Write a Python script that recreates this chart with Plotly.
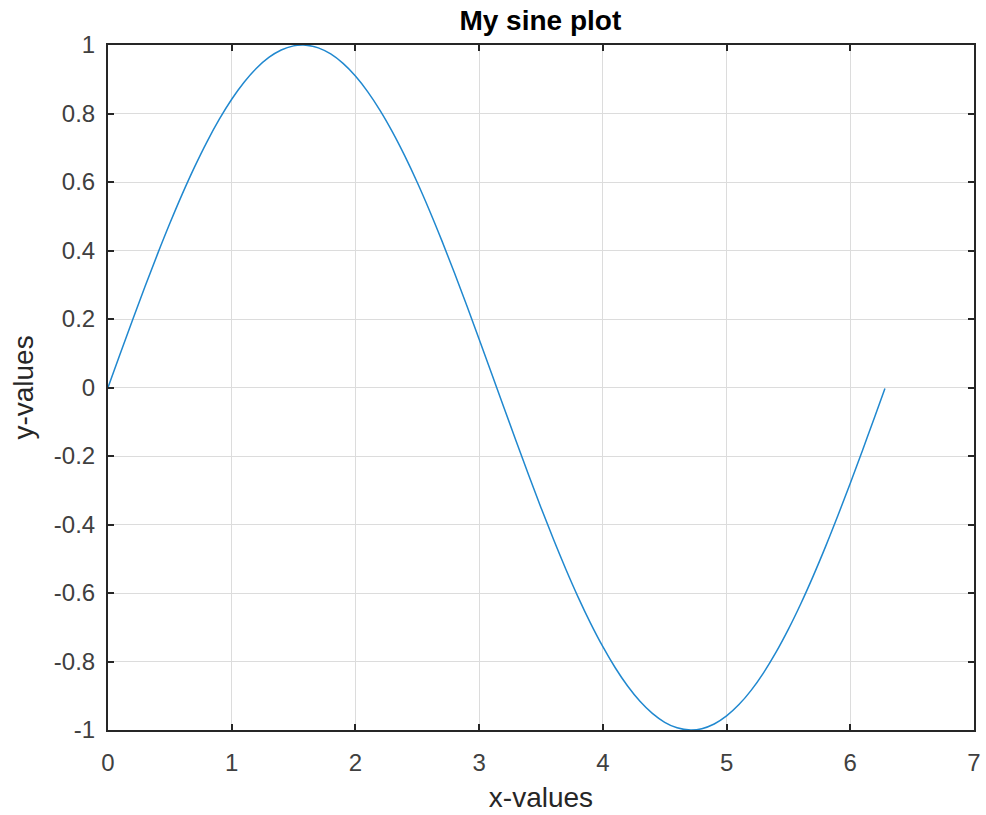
import plotly.graph_objects as go

x_vals = [0.0, 0.1, 0.2, 0.3, 0.4, 0.5, 0.6, 0.7, 0.8, 0.9, 1.0, 1.1, 1.2, 1.3, 1.4, 1.5, 1.57, 1.6,
          1.7, 1.8, 1.9, 2.0, 2.1, 2.2, 2.3, 2.4, 2.5, 2.6, 2.7, 2.8, 2.9, 3.0, 3.1, 3.2, 3.3,
          3.4, 3.5, 3.6, 3.7, 3.8, 3.9, 4.0, 4.1, 4.2, 4.3, 4.4, 4.5, 4.6, 4.71, 4.8, 4.9,
          5.0, 5.1, 5.2, 5.3, 5.4, 5.5, 5.6, 5.7, 5.8, 5.9, 6.0, 6.1, 6.2, 6.28]
y_vals = [0.0, 0.0998, 0.1987, 0.2955, 0.3894, 0.4794, 0.5646, 0.6442, 0.7174, 0.7833, 0.8415,
          0.8912, 0.9320, 0.9636, 0.9854, 0.9975, 1.0, 0.9996, 0.9917, 0.9738, 0.9463, 0.9093,
          0.8632, 0.8085, 0.7457, 0.6755, 0.5985, 0.5155, 0.4274, 0.3350, 0.2392, 0.1411,
          0.0416, -0.0584, -0.1577, -0.2555, -0.3508, -0.4425, -0.5298, -0.6119, -0.6878,
          -0.7568, -0.8183, -0.8716, -0.9162, -0.9516, -0.9775, -0.9937, -1.0, -0.9962,
          -0.9825, -0.9589, -0.9258, -0.8835, -0.8323, -0.7728, -0.7055, -0.6313, -0.5507,
          -0.4646, -0.3739, -0.2794, -0.1822, -0.0831, -0.0032]

x_ticks = [0, 1, 2, 3, 4, 5, 6, 7]
x_tick_labels = ["0", "1", "2", "3", "4", "5", "6", "7"]
y_ticks = [-1, -0.8, -0.6, -0.4, -0.2, 0, 0.2, 0.4, 0.6, 0.8, 1]
y_tick_labels = ["-1", "-0.8", "-0.6", "-0.4", "-0.2", "0", "0.2", "0.4", "0.6", "0.8", "1"]

title_text = "My sine plot"
x_title = "x-values"
y_title = "y-values"

AX = "#262626"
FONT = "Liberation Sans, Arial, Helvetica, sans-serif"

fig = go.Figure()
fig.add_trace(go.Scatter(x=x_vals, y=y_vals, mode="lines",
                         line=dict(color="#2088cf", width=1.5, shape="spline"),
                         showlegend=False))

axis_common = dict(
    showline=True, linecolor=AX, linewidth=2, mirror="ticks",
    ticks="inside", ticklen=6, tickwidth=1.5, tickcolor=AX,
    showgrid=True, gridcolor="#dcdcdc", gridwidth=1, zeroline=False,
    tickfont=dict(family=FONT, size=24, color="#404040"),
    automargin=False,
)

fig.update_layout(
    width=986, height=815,
    margin=dict(l=108, r=12, t=45, b=85),
    paper_bgcolor="white", plot_bgcolor="white",
    title=dict(text="<b>" + title_text + "</b>", x=0.548, xanchor="center", y=0.975, yanchor="middle",
               font=dict(family=FONT, size=28, color="black")),
    xaxis=dict(range=[0, 7], tickvals=x_ticks, ticktext=x_tick_labels, ticklabelstandoff=10,
               title=dict(text=x_title, font=dict(family=FONT, size=28, color=AX), standoff=13),
               **axis_common),
    yaxis=dict(range=[-1, 1], tickvals=y_ticks, ticktext=y_tick_labels, ticklabelstandoff=6,
               title=dict(text=y_title, font=dict(family=FONT, size=28, color=AX), standoff=12),
               **axis_common),
)

fig.write_html("out.html")
